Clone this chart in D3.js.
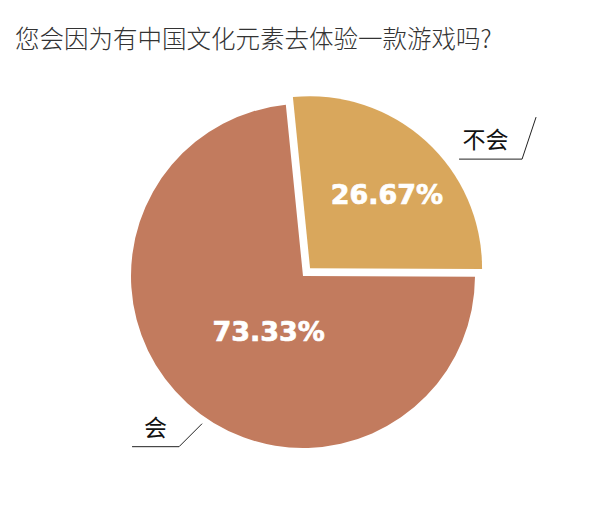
<!DOCTYPE html>
<html>
<head>
<meta charset="utf-8">
<script src="https://cdn.jsdelivr.net/npm/d3@7"></script>
<style>
  body { margin: 0; background: #fff; }
  svg { display: block; }
</style>
</head>
<body>
<svg id="chart" width="612" height="520"></svg>
<script>
// data
var title = "您会因为有中国文化元素去体验一款游戏吗?";
var categories = ["不会", "会"];
var values = [26.67, 73.33];

var width = 612, height = 520,
  cx = 303, cy = 276, radius = 172;

var color = d3.scaleOrdinal()
  .domain(categories)
  .range(["#D9A75C", "#C27B5E"]);

// how far each slice is pulled out, and where its labels sit
var explode = {"不会": 10.5, "会": 0};
var pctSpot = {"不会": {r: 0.62, t: 0.54}, "会": {r: 0.38, t: 0.46}};
var leader = {
  "不会": {t: 0.64, r: 1.64, dx: -14, dy: 42, len: 63, side: 1},
  "会": {t: 0.47, r: 1.04, dx: -23, dy: 23, len: 47, side: -1}
};

var svg = d3.select("#chart");

svg.append("text")
  .attr("x", 15)
  .attr("y", 37)
  .attr("dominant-baseline", "central")
  .attr("font-family", "'Noto Sans CJK SC', sans-serif")
  .attr("font-size", 24.5)
  .attr("font-weight", 300)
  .attr("fill", "#333")
  .text(title);

var pie = d3.pie()
  .sort(null)
  .value(function(d, i) { return values[i]; })
  .startAngle(-0.1)
  .endAngle(-0.1 + 2 * Math.PI);

var arcs = pie(categories);

var arc = d3.arc()
  .innerRadius(0)
  .outerRadius(radius);

function polar(a, r) {
  return [Math.sin(a) * r, -Math.cos(a) * r];
}

var g = svg.append("g")
  .attr("transform", "translate(" + cx + "," + cy + ")");

var slices = g.selectAll("g.slice")
  .data(arcs)
  .enter()
  .append("g")
  .attr("class", "slice")
  .attr("transform", function(d) {
    var mid = (d.startAngle + d.endAngle) / 2;
    var p = polar(mid, explode[d.data]);
    return "translate(" + p[0] + "," + p[1] + ")";
  });

slices.append("path")
  .attr("d", arc)
  .attr("fill", function(d) { return color(d.data); });

slices.append("text")
  .attr("transform", function(d) {
    var s = pctSpot[d.data];
    var a = d.startAngle + s.t * (d.endAngle - d.startAngle);
    var p = polar(a, s.r * radius);
    return "translate(" + p[0] + "," + p[1] + ")";
  })
  .attr("text-anchor", "middle")
  .attr("dominant-baseline", "central")
  .attr("font-family", "'DejaVu Sans', sans-serif")
  .attr("font-weight", "bold")
  .attr("font-size", 27)
  .attr("fill", "#fff")
  .attr("stroke", "#fff")
  .attr("stroke-width", 0.7)
  .text(function(d, i) { return values[i].toFixed(2) + "%"; });

// category labels with the little bent leader lines
var labels = g.selectAll("g.label")
  .data(arcs)
  .enter()
  .append("g")
  .attr("class", "label");

labels.append("path")
  .attr("fill", "none")
  .attr("stroke", "#222")
  .attr("stroke-width", 1)
  .attr("d", function(d) {
    var L = leader[d.data];
    var a = d.startAngle + L.t * (d.endAngle - d.startAngle);
    var tip = polar(a, L.r * radius);
    var knee = [tip[0] + L.dx, tip[1] + L.dy];
    var end = [knee[0] - L.len, knee[1]];
    return d3.line()([tip, knee, end]);
  });

labels.append("text")
  .attr("x", function(d) {
    var L = leader[d.data];
    var a = d.startAngle + L.t * (d.endAngle - d.startAngle);
    var tip = polar(a, L.r * radius);
    return tip[0] + L.dx - L.len / 2 + (L.side > 0 ? -5 : 0);
  })
  .attr("y", function(d) {
    var L = leader[d.data];
    var a = d.startAngle + L.t * (d.endAngle - d.startAngle);
    var tip = polar(a, L.r * radius);
    return tip[1] + L.dy - 21;
  })
  .attr("text-anchor", "middle")
  .attr("dominant-baseline", "central")
  .attr("font-family", "'Noto Sans CJK SC', sans-serif")
  .attr("font-size", 23)
  .attr("fill", "#111")
  .text(function(d) { return d.data; });
</script>
</body>
</html>
